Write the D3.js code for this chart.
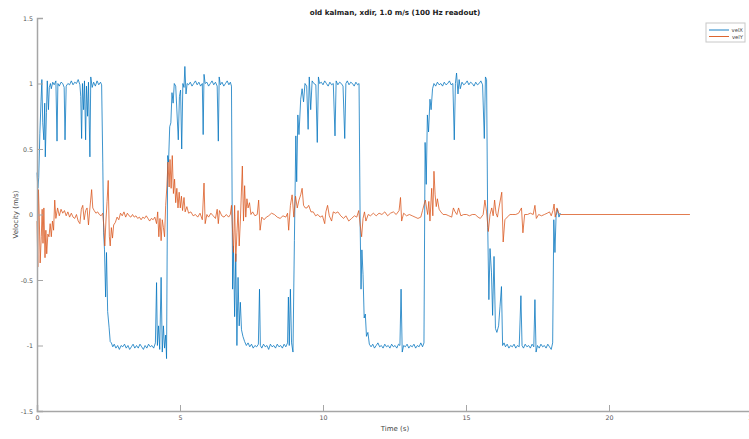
<!DOCTYPE html>
<html>
<head>
<meta charset="utf-8">
<script src="https://cdnjs.cloudflare.com/ajax/libs/d3/7.8.5/d3.min.js"></script>
<style>
  body { margin: 0; background: #fff; }
  svg { display: block; font-family: "DejaVu Sans", sans-serif; }
</style>
</head>
<body>
<script>
/* velocity plot, old kalman x direction */

var chartTitle = "old kalman, xdir, 1.0 m/s (100 Hz readout)";
var xTicks = [0, 5, 10, 15, 20, 25];
var yTicks = [-1.5, -1, -0.5, 0, 0.5, 1, 1.5];
var seriesNames = ["velX", "velY"];

// [time s, velocity m/s]
var velX = [
  [0.00,0.32],[0.03,0.20],[0.06,0.28],[0.10,0.62],[0.14,0.86],[0.17,1.03],[0.20,0.70],[0.24,0.57],
  [0.27,0.85],[0.29,0.44],[0.33,0.78],[0.36,1.02],[0.40,0.80],[0.43,0.97],[0.47,1.00],[0.50,0.96],
  [0.55,1.01],[0.60,0.99],[0.66,1.02],[0.70,0.56],[0.73,1.00],[0.78,0.98],[0.84,1.01],[0.90,1.00],
  [0.95,0.97],[0.98,0.57],[1.02,0.98],[1.08,1.00],[1.14,0.99],[1.20,1.02],[1.26,0.99],[1.32,1.01],
  [1.38,1.00],[1.44,1.03],[1.50,0.99],[1.53,0.90],[1.56,0.58],[1.59,1.00],[1.63,0.80],[1.66,1.02],
  [1.70,0.57],[1.73,0.98],[1.77,0.75],[1.80,1.01],[1.85,0.44],[1.88,1.05],[1.93,0.97],[1.98,1.01],
  [2.04,0.98],[2.10,1.02],[2.16,0.99],[2.22,1.01],[2.26,0.99],[2.30,0.40],[2.33,-0.14],[2.36,-0.27],
  [2.40,-0.63],[2.43,-0.29],[2.47,-0.74],[2.52,-0.86],[2.56,-0.97],[2.60,-0.98],[2.65,-1.01],[2.70,-0.99],
  [2.76,-1.02],[2.82,-1.00],[2.88,-1.03],[2.94,-1.00],[3.00,-1.01],[3.06,-0.99],[3.12,-1.02],[3.18,-1.00],
  [3.24,-1.03],[3.30,-1.01],[3.36,-0.99],[3.42,-1.02],[3.48,-1.00],[3.54,-1.02],[3.60,-0.99],[3.66,-1.01],
  [3.72,-1.03],[3.78,-1.00],[3.84,-1.02],[3.90,-0.99],[3.96,-1.01],[4.02,-1.00],[4.08,-1.02],[4.14,-0.98],
  [4.18,-0.52],[4.21,-1.00],[4.25,-0.85],[4.29,-1.03],[4.34,-0.48],[4.38,-1.05],[4.42,-0.85],[4.46,-1.02],
  [4.50,-0.92],[4.53,-1.10],[4.57,0.45],[4.60,0.40],[4.64,0.67],[4.68,0.70],[4.72,0.93],[4.76,0.85],
  [4.80,1.00],[4.85,0.98],[4.94,0.57],[4.98,0.90],[5.02,0.95],[5.06,0.50],[5.10,1.00],[5.14,0.97],
  [5.17,1.13],[5.21,0.92],[5.25,1.00],[5.30,0.99],[5.36,1.01],[5.42,0.98],[5.48,1.00],[5.54,1.02],
  [5.60,0.99],[5.66,1.01],[5.72,0.98],[5.78,1.00],[5.81,0.61],[5.84,1.07],[5.88,1.00],[5.94,1.01],
  [6.00,0.98],[6.06,1.00],[6.12,1.02],[6.18,0.99],[6.24,1.01],[6.30,0.98],[6.34,0.56],[6.37,1.05],
  [6.41,0.99],[6.47,1.01],[6.53,0.98],[6.59,1.00],[6.65,1.02],[6.71,0.99],[6.76,1.01],[6.80,0.98],
  [6.84,-0.57],[6.87,-0.24],[6.91,-0.78],[6.95,-0.30],[6.99,-1.00],[7.03,-0.48],[7.07,-0.85],[7.11,-0.67],
  [7.15,-0.88],[7.20,-0.93],[7.26,-0.97],[7.32,-1.00],[7.38,-0.98],[7.44,-1.01],[7.50,-0.99],[7.56,-1.02],
  [7.62,-1.00],[7.68,-1.01],[7.74,-0.99],[7.78,-0.57],[7.81,-1.00],[7.86,-1.02],[7.92,-0.99],[7.98,-1.01],
  [8.04,-1.00],[8.10,-1.03],[8.16,-0.99],[8.22,-1.01],[8.28,-1.00],[8.34,-1.02],[8.40,-0.99],[8.46,-1.01],
  [8.52,-1.00],[8.58,-1.02],[8.64,-0.99],[8.70,-1.01],[8.76,-0.98],[8.79,-0.63],[8.82,-1.00],[8.86,-0.57],
  [8.90,-0.98],[8.95,-1.05],[9.00,-0.20],[9.05,0.60],[9.08,0.25],[9.12,0.76],[9.16,0.61],[9.22,0.88],
  [9.27,0.96],[9.32,0.86],[9.37,1.00],[9.43,0.98],[9.48,0.65],[9.52,1.05],[9.57,0.80],[9.62,1.02],
  [9.68,1.00],[9.75,0.99],[9.80,0.55],[9.84,1.05],[9.88,1.00],[9.94,1.01],[10.00,0.99],[10.06,1.02],
  [10.12,1.00],[10.18,0.98],[10.24,1.01],[10.30,0.99],[10.36,1.00],[10.42,0.60],[10.46,1.02],[10.52,0.99],
  [10.58,1.01],[10.64,1.00],[10.70,0.98],[10.76,0.58],[10.80,1.00],[10.85,1.02],[10.91,0.99],[10.97,1.01],
  [11.03,1.00],[11.09,0.98],[11.15,1.01],[11.21,0.99],[11.26,1.00],[11.30,-0.09],[11.33,-0.57],[11.36,-0.27],
  [11.40,-0.46],[11.44,-0.79],[11.48,-0.76],[11.52,-0.93],[11.57,-0.90],[11.62,-0.99],[11.68,-1.01],[11.74,-0.99],
  [11.80,-1.02],[11.86,-1.00],[11.92,-0.98],[11.98,-1.01],[12.04,-1.00],[12.10,-1.02],[12.16,-0.99],[12.22,-1.01],
  [12.28,-1.00],[12.34,-1.02],[12.40,-0.99],[12.46,-1.01],[12.52,-1.00],[12.58,-1.02],[12.64,-0.99],[12.69,-1.00],
  [12.73,-0.57],[12.77,-1.05],[12.82,-1.00],[12.88,-1.01],[12.94,-0.99],[13.00,-1.02],[13.06,-1.00],[13.12,-1.01],
  [13.18,-0.99],[13.24,-1.02],[13.30,-1.00],[13.36,-1.01],[13.42,-0.98],[13.48,-1.01],[13.53,-0.98],[13.57,0.55],
  [13.61,0.23],[13.65,0.76],[13.69,0.63],[13.74,0.88],[13.78,0.80],[13.83,0.96],[13.88,1.00],[13.94,0.98],
  [14.00,1.01],[14.06,0.99],[14.12,1.00],[14.18,0.98],[14.24,1.01],[14.30,0.99],[14.36,1.00],[14.42,1.02],
  [14.48,0.99],[14.54,1.00],[14.59,0.57],[14.63,1.00],[14.67,1.08],[14.72,0.92],[14.76,1.03],[14.80,0.96],
  [14.86,1.01],[14.92,0.99],[14.98,1.00],[15.04,1.02],[15.10,0.99],[15.16,1.01],[15.22,1.00],[15.28,0.98],
  [15.34,1.01],[15.40,0.99],[15.46,1.00],[15.52,1.02],[15.58,0.99],[15.64,0.58],[15.68,1.05],[15.72,1.03],
  [15.76,-0.10],[15.80,-0.65],[15.84,-0.26],[15.89,-0.44],[15.93,-0.77],[15.98,-0.32],[16.03,-0.87],[16.08,-0.90],
  [16.14,-0.85],[16.19,-0.70],[16.24,-0.55],[16.28,-1.00],[16.33,-0.98],[16.38,-1.01],[16.44,-0.99],[16.50,-1.02],
  [16.56,-1.00],[16.62,-1.01],[16.68,-0.99],[16.74,-1.02],[16.80,-1.00],[16.86,-1.01],[16.92,-0.62],[16.96,-1.00],
  [17.01,-1.02],[17.07,-0.99],[17.13,-1.01],[17.19,-1.00],[17.25,-1.02],[17.31,-0.99],[17.37,-1.01],[17.41,-0.65],
  [17.45,-1.05],[17.50,-1.00],[17.56,-1.02],[17.62,-0.99],[17.68,-1.01],[17.74,-1.00],[17.80,-1.02],[17.86,-0.99],
  [17.92,-1.01],[17.98,-1.03],[18.03,-0.98],[18.07,-0.04],[18.11,-0.29],[18.15,-0.01],[18.20,0.04],[18.25,-0.02],
  [18.30,0.01]
];

var velY = [
  [0.00,-0.05],[0.03,-0.40],[0.05,0.19],[0.08,-0.02],[0.11,-0.37],[0.15,-0.17],[0.18,0.04],[0.21,-0.22],
  [0.24,0.05],[0.28,-0.33],[0.31,-0.12],[0.34,-0.30],[0.38,-0.15],[0.42,-0.17],[0.46,-0.07],[0.50,-0.17],
  [0.54,-0.05],[0.58,-0.12],[0.62,0.11],[0.66,-0.03],[0.72,0.05],[0.78,-0.01],[0.84,0.04],[0.90,0.01],
  [0.96,0.03],[1.02,-0.01],[1.08,0.02],[1.14,-0.02],[1.20,0.01],[1.26,-0.02],[1.32,-0.03],[1.38,0.00],
  [1.44,-0.05],[1.50,-0.07],[1.55,0.04],[1.60,0.07],[1.65,-0.04],[1.70,0.03],[1.75,0.05],[1.80,-0.08],
  [1.85,0.05],[1.91,0.19],[1.95,0.05],[2.00,0.03],[2.06,0.01],[2.12,0.02],[2.18,0.00],[2.24,-0.01],
  [2.30,0.01],[2.34,-0.10],[2.37,-0.24],[2.41,-0.05],[2.45,0.10],[2.49,0.26],[2.53,-0.17],[2.56,-0.24],
  [2.60,-0.10],[2.64,-0.18],[2.68,-0.08],[2.74,-0.06],[2.80,-0.02],[2.86,-0.04],[2.92,0.01],[2.98,-0.01],
  [3.04,0.02],[3.10,-0.02],[3.16,0.01],[3.22,-0.01],[3.28,-0.02],[3.34,0.00],[3.40,-0.02],[3.46,-0.01],
  [3.52,-0.03],[3.58,-0.02],[3.64,-0.04],[3.70,-0.02],[3.76,-0.03],[3.82,-0.01],[3.88,-0.03],[3.94,-0.05],
  [4.00,-0.03],[4.06,-0.04],[4.12,-0.02],[4.18,-0.07],[4.22,0.02],[4.26,-0.17],[4.30,-0.03],[4.34,-0.20],
  [4.38,-0.04],[4.42,-0.10],[4.46,-0.17],[4.50,0.07],[4.54,0.21],[4.58,0.40],[4.62,0.21],[4.65,0.42],
  [4.69,0.20],[4.73,0.45],[4.77,0.16],[4.81,0.27],[4.85,0.09],[4.89,0.20],[4.93,0.05],[4.97,0.17],
  [5.01,0.05],[5.05,0.14],[5.09,0.03],[5.14,0.13],[5.18,0.02],[5.24,0.06],[5.30,0.01],[5.38,0.02],
  [5.46,-0.01],[5.54,0.00],[5.62,-0.02],[5.70,0.01],[5.78,-0.04],[5.84,0.24],[5.88,-0.07],[5.94,0.00],
  [6.00,-0.02],[6.08,0.01],[6.16,-0.01],[6.24,-0.03],[6.30,0.04],[6.34,-0.07],[6.38,0.03],[6.46,-0.01],
  [6.54,-0.02],[6.62,0.00],[6.70,-0.02],[6.76,0.00],[6.80,0.07],[6.84,-0.14],[6.87,-0.29],[6.91,0.07],
  [6.95,-0.36],[6.99,-0.14],[7.03,0.03],[7.07,-0.24],[7.11,-0.05],[7.18,0.37],[7.22,-0.05],[7.26,0.22],
  [7.30,-0.02],[7.34,0.12],[7.38,0.05],[7.43,0.09],[7.48,0.00],[7.54,0.02],[7.62,-0.01],[7.70,0.00],
  [7.75,0.11],[7.80,-0.12],[7.86,-0.02],[7.94,-0.04],[8.02,-0.02],[8.10,-0.01],[8.20,0.01],[8.30,0.00],
  [8.40,-0.02],[8.50,-0.03],[8.60,-0.01],[8.70,-0.02],[8.76,0.01],[8.80,-0.12],[8.86,0.07],[8.92,0.15],
  [8.98,-0.02],[9.04,0.14],[9.10,0.05],[9.16,0.11],[9.22,0.15],[9.27,0.20],[9.32,0.07],[9.38,0.05],
  [9.44,0.05],[9.50,0.07],[9.58,0.02],[9.66,0.02],[9.74,-0.01],[9.82,0.00],[9.90,-0.02],[9.98,-0.01],
  [10.06,-0.07],[10.10,0.02],[10.16,0.07],[10.22,-0.01],[10.30,-0.05],[10.36,0.02],[10.44,0.01],[10.52,0.02],
  [10.62,-0.01],[10.72,-0.03],[10.80,-0.01],[10.90,-0.05],[11.00,-0.03],[11.10,-0.01],[11.18,-0.02],[11.25,0.03],
  [11.30,-0.08],[11.35,-0.17],[11.40,-0.03],[11.45,0.02],[11.50,-0.05],[11.58,0.00],[11.66,-0.01],[11.76,0.01],
  [11.86,-0.01],[11.96,0.01],[12.06,0.00],[12.16,0.02],[12.26,-0.01],[12.36,0.01],[12.46,0.02],[12.56,0.00],
  [12.66,0.03],[12.71,0.13],[12.75,-0.05],[12.82,0.01],[12.92,-0.01],[13.02,0.00],[13.12,-0.01],[13.22,-0.02],
  [13.32,-0.03],[13.42,-0.02],[13.48,0.03],[13.54,0.08],[13.58,0.11],[13.62,0.05],[13.66,0.00],[13.70,0.10],
  [13.74,-0.05],[13.80,0.20],[13.84,-0.01],[13.88,0.33],[13.92,0.15],[13.96,0.06],[14.00,0.12],[14.06,0.04],
  [14.12,0.02],[14.20,0.00],[14.30,0.00],[14.40,-0.01],[14.50,-0.02],[14.56,0.05],[14.62,0.02],[14.68,0.00],
  [14.74,0.05],[14.82,-0.01],[14.92,0.00],[15.02,0.00],[15.12,-0.01],[15.22,0.00],[15.32,0.00],[15.42,-0.02],
  [15.50,-0.03],[15.60,0.00],[15.66,0.11],[15.72,0.02],[15.78,-0.13],[15.84,0.00],[15.90,0.05],[15.95,-0.01],
  [16.00,0.11],[16.05,0.01],[16.10,-0.02],[16.15,0.05],[16.25,0.17],[16.30,-0.21],[16.36,-0.04],[16.44,-0.02],
  [16.54,0.00],[16.64,0.00],[16.74,0.00],[16.84,0.01],[16.94,0.05],[16.99,-0.14],[17.05,0.00],[17.15,0.00],
  [17.25,0.01],[17.35,0.00],[17.41,0.07],[17.46,-0.03],[17.54,0.00],[17.64,-0.01],[17.74,0.00],[17.84,0.01],
  [17.92,0.02],[17.98,-0.01],[18.04,0.03],[18.08,0.08],[18.12,-0.02],[18.18,0.05],[18.24,0.01],[18.30,0.00],
  [22.83,0.00]
];

var width = 749, height = 439;
var colors = ["#0072BD", "#D95319"];

var svg = d3.select("body").append("svg")
    .attr("width", width)
    .attr("height", height);

var x = d3.scaleLinear().domain([0, 25]).range([37, 752]);
var y = d3.scaleLinear().domain([-1.5, 1.5]).range([411, 18]);

// lines
var line = d3.line()
    .x(function(d){ return x(d[0]); })
    .y(function(d){ return y(d[1]); });

[velX, velY].forEach(function(s, i){
    svg.append("path")
        .datum(s)
        .attr("fill", "none")
        .attr("stroke", colors[i])
        .attr("stroke-width", 0.85)
        .attr("stroke-opacity", 0.9)
        .attr("stroke-linejoin", "round")
        .attr("d", line);
});

// axes, ticks point inward like matlab
var xAxis = svg.append("g")
    .attr("transform", "translate(0," + y(-1.5) + ")")
    .call(d3.axisBottom(x).tickValues(xTicks).tickSize(-6).tickPadding(5).tickFormat(d3.format("d")));

var yAxis = svg.append("g")
    .attr("transform", "translate(" + x(0) + ",0)")
    .call(d3.axisLeft(y).tickValues(yTicks).tickSize(-6).tickPadding(4).tickFormat(function(d){ return d; }));

[xAxis, yAxis].forEach(function(a){
    a.select(".domain").attr("stroke", "#a6a6a6").attr("stroke-width", 1.5);
    a.selectAll(".tick line").attr("stroke", "#a6a6a6").attr("stroke-width", 1);
    a.selectAll(".tick text").attr("fill", "#555").attr("font-size", "6.3px")
        .attr("font-family", "DejaVu Sans, sans-serif");
});

// title and labels
svg.append("text")
    .attr("x", 395).attr("y", 15)
    .attr("text-anchor", "middle")
    .attr("font-size", "7.2px")
    .attr("font-weight", "bold")
    .attr("fill", "#222")
    .text(chartTitle);

svg.append("text")
    .attr("x", 395).attr("y", 431)
    .attr("text-anchor", "middle")
    .attr("font-size", "7px")
    .attr("fill", "#444")
    .text("Time (s)");

svg.append("text")
    .attr("transform", "translate(18," + y(0) + ") rotate(-90)")
    .attr("text-anchor", "middle")
    .attr("font-size", "7px")
    .attr("fill", "#444")
    .text("Velocity (m/s)");

// legend
var legend = svg.append("g");
legend.append("rect")
    .attr("x", 706).attr("y", 23)
    .attr("width", 39).attr("height", 19)
    .attr("fill", "#fff")
    .attr("stroke", "#c8c8c8")
    .attr("stroke-width", 1);

seriesNames.forEach(function(n, i){
    var ly = 30 + i * 6.5;
    legend.append("line")
        .attr("x1", 709).attr("x2", 729)
        .attr("y1", ly).attr("y2", ly)
        .attr("stroke", colors[i])
        .attr("stroke-width", 0.9);
    legend.append("text")
        .attr("x", 743).attr("y", ly + 2)
        .attr("text-anchor", "end")
        .attr("font-size", "5.3px")
        .attr("fill", "#444")
        .text(n);
});
</script>
</body>
</html>
